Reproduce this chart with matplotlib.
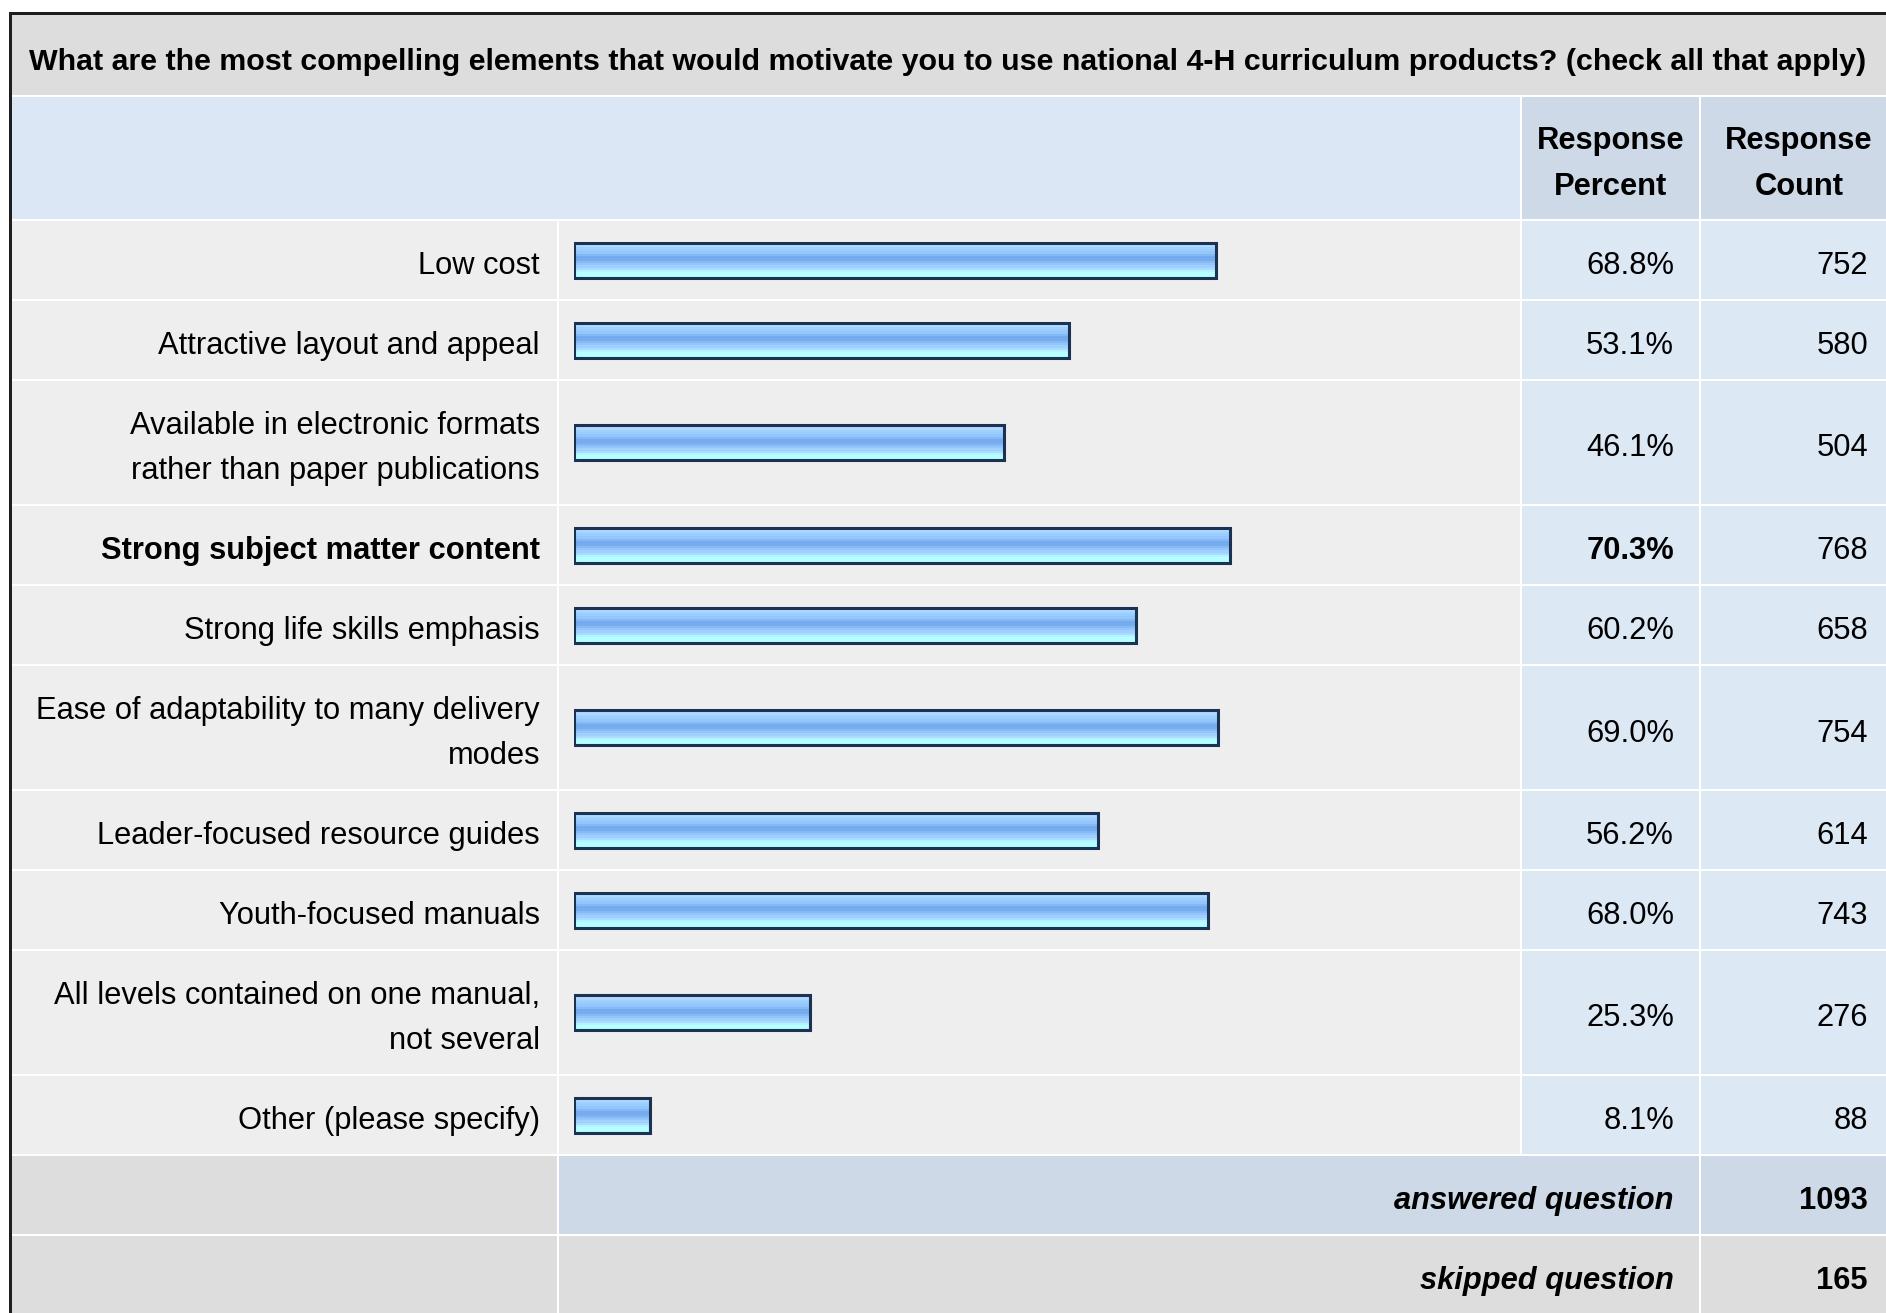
import matplotlib
matplotlib.use("Agg")
import matplotlib.pyplot as plt
from matplotlib.patches import Rectangle
from matplotlib.colors import to_rgb
import numpy as np

# ---------------- data ----------------
title = "What are the most compelling elements that would motivate you to use national 4-H curriculum products? (check all that apply)"
labels = [
    "Low cost",
    "Attractive layout and appeal",
    "Available in electronic formats\nrather than paper publications",
    "Strong subject matter content",
    "Strong life skills emphasis",
    "Ease of adaptability to many delivery\nmodes",
    "Leader-focused resource guides",
    "Youth-focused manuals",
    "All levels contained on one manual,\nnot several",
    "Other (please specify)",
]
percents = [68.8, 53.1, 46.1, 70.3, 60.2, 69.0, 56.2, 68.0, 25.3, 8.1]
counts = [752, 580, 504, 768, 658, 754, 614, 743, 276, 88]
col_headers = ["Response\nPercent", "Response\nCount"]
summary_labels = ["answered question", "skipped question"]
summary_values = [1093, 165]

# ---------------- layout (pixels) ----------------
W, H = 1886, 1313
fig = plt.figure(figsize=(W / 100, H / 100), dpi=100)
ax = fig.add_axes([0, 0, 1, 1])
ax.set_xlim(0, W)
ax.set_ylim(H, 0)
ax.axis("off")

FONT = "Liberation Sans"
FS = 22.2
FS_T = 21.85
LS = 1.66
DY = 6

X0, XLAB, XBAR, XPCT, XEND = 12, 558, 1521, 1700, 1892
TITLE_TOP, TITLE_BOT, HEAD_BOT = 15, 96, 220

C_TITLE = "#dddddd"
C_HEAD = "#dce7f5"
C_HEAD2 = "#cdd9e7"
C_ROW = "#eeeeee"
C_ROWV = "#dde8f5"
C_SUM = "#dddddd"
C_SUMB = "#cdd9e7"
GAP = 1.2


def cell(x0, x1, y0, y1, color):
    ax.add_patch(Rectangle((x0 + GAP, y0 + GAP), x1 - x0 - 2 * GAP, y1 - y0 - 2 * GAP,
                           facecolor=color, edgecolor="none", zorder=1))


# title
ax.add_patch(Rectangle((X0, TITLE_TOP), XEND - X0, TITLE_BOT - TITLE_TOP - GAP,
                       facecolor=C_TITLE, edgecolor="none", zorder=1))
ax.text(29, (TITLE_TOP + TITLE_BOT) / 2 + 7, title, ha="left", va="center",
        fontsize=FS_T, fontweight="bold", family=FONT, zorder=3)

# header
cell(X0 - GAP, XBAR, TITLE_BOT, HEAD_BOT, C_HEAD)
cell(XBAR, XPCT, TITLE_BOT, HEAD_BOT, C_HEAD2)
cell(XPCT, XEND, TITLE_BOT, HEAD_BOT, C_HEAD2)
ax.text((XBAR + XPCT) / 2, (TITLE_BOT + HEAD_BOT) / 2 + DY, col_headers[0], ha="center",
        va="center", fontsize=FS, fontweight="bold", family=FONT, linespacing=LS, zorder=3)
ax.text((XPCT + 1898) / 2, (TITLE_BOT + HEAD_BOT) / 2 + DY, col_headers[1], ha="center",
        va="center", fontsize=FS, fontweight="bold", family=FONT, linespacing=LS, zorder=3)

# rows
row_tops = []
y = HEAD_BOT
for lab in labels:
    h = 80 if "\n" not in lab else 125
    row_tops.append((y, y + h))
    y += h

imax = int(np.argmax(percents))
centers = []
for i, (lab, p, c) in enumerate(zip(labels, percents, counts)):
    y0, y1 = row_tops[i]
    yc = (y0 + y1) / 2
    centers.append(yc)
    cell(X0 - GAP, XLAB, y0, y1, C_ROW)
    cell(XLAB, XBAR, y0, y1, C_ROW)
    cell(XBAR, XPCT, y0, y1, C_ROWV)
    cell(XPCT, XEND, y0, y1, C_ROWV)
    wt = "bold" if i == imax else "normal"
    ax.text(540, yc + DY, lab, ha="right", va="center", fontsize=FS, family=FONT,
            fontweight=wt, linespacing=LS, multialignment="right", zorder=3)
    ax.text(1674, yc + DY, f"{p:.1f}%", ha="right", va="center", fontsize=FS, family=FONT,
            fontweight=wt, zorder=3)
    ax.text(1868, yc + DY, f"{c}", ha="right", va="center", fontsize=FS, family=FONT, zorder=3)

# summary rows
sy = y
for k, (sl, sv) in enumerate(zip(summary_labels, summary_values)):
    y0, y1 = sy + 80 * k, sy + 80 * (k + 1)
    mid = C_SUMB if k == 0 else C_SUM
    cell(X0 - GAP, XLAB, y0, y1, C_SUM)
    cell(XLAB, XPCT, y0, y1, mid)
    cell(XPCT, XEND, y0, y1, mid)
    yc = (y0 + y1) / 2
    ax.text(1674, yc + DY, sl, ha="right", va="center", fontsize=FS, family=FONT,
            fontweight="bold", fontstyle="italic", zorder=3)
    ax.text(1868, yc + DY, f"{sv}", ha="right", va="center", fontsize=FS, family=FONT,
            fontweight="bold", zorder=3)

# outer border
ax.add_patch(Rectangle((8.5, 12), 3.5, H, facecolor="#1e1e1e", edgecolor="none", zorder=4))
ax.add_patch(Rectangle((8.5, 11.5), W, 3.5, facecolor="#1e1e1e", edgecolor="none", zorder=4))

# ---------------- bars ----------------
BX0, BX100 = 574, 1507
bax = fig.add_axes([BX0 / W, 0, (BX100 - BX0) / W, 1])
bax.set_xlim(0, 100)
bax.set_ylim(H, 0)
bax.axis("off")
bax.patch.set_alpha(0)

bars = bax.barh(centers, percents, height=35, left=0, facecolor="none",
                edgecolor="#1b3254", linewidth=2.2, zorder=3)
grad_cols = ["#c4e2ff", "#b0d8ff", "#9fd0ff", "#99ccff", "#93c6fb", "#85b9f3",
             "#75aaee", "#77acee", "#85baf5", "#93c6fb", "#9fd0ff", "#aadcff",
             "#b3f4ff", "#b4ffff", "#b4ffff"]
grad = np.array([to_rgb(c) for c in grad_cols])[:, None, :]
for b in bars:
    x, yb = b.get_x(), b.get_y()
    w, h = b.get_width(), b.get_height()
    im = bax.imshow(grad, extent=(x, x + w, yb + h, yb), aspect="auto",
                    interpolation="nearest", zorder=2)
    im.set_clip_path(b)

fig.savefig("out.png", dpi=100)
